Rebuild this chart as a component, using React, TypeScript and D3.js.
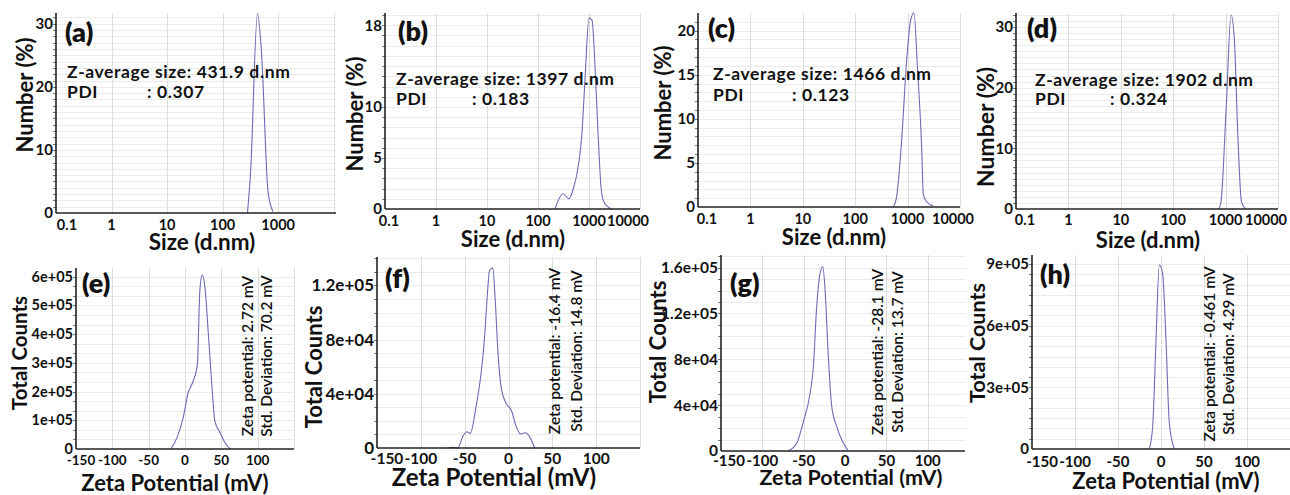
import * as d3 from "d3";
import React from "react";

// ---- size distributions, (a)-(d): size in d.nm, number in %
const sizeTicks = [0.1, 1, 10, 100, 1000, 10000];
const sizeGrid = [1, 10, 100, 1000, 10000];

const sizeA = [280, 318, 424, 501, 658, 809];
const numberA = [0, 6.3, 31.6, 25.5, 3.3, 0.2];
const sizeB = [215, 309, 405, 486, 582, 729, 835, 1000, 1145, 1312, 1501, 1718, 1883, 2360, 2826];
const numberB = [0, 1.5, 1.0, 1.9, 3.5, 7.5, 12.7, 18.7, 18.5, 14, 7.5, 2.2, 0.9, 0.2, 0];
const sizeC = [533, 619, 771, 961, 1146, 1325, 1535, 1862, 1995, 2310, 3090];
const numberC = [0, 1.2, 7.6, 16.7, 21.2, 22, 16, 6.5, 1.4, 0.6, 0.1];
const sizeD = [738, 818, 1021, 1273, 1473, 1706, 2005, 2390];
const numberD = [0, 1.2, 16.3, 32, 27.8, 12.5, 1.2, 0];

// ---- zeta potential, (e)-(h): mV vs total counts
const zetaTicks = [-150, -100, -50, 0, 50, 100];
const zetaGrid = [-100, -50, 0, 50, 100, 150];

const zetaE = [-19.5, -10.4, -2.2, 4.1, 10.1, 16.9, 20.5, 23.7, 27.3, 32.7, 37.4, 40.9, 48.7, 55.5, 62.3];
const countsE = [0, 43000, 113000, 194000, 229000, 290000, 554000, 606000, 565000, 380000, 206000, 100000, 55000, 20000, 0];
const zetaF = [-69.4, -63.7, -58, -52.2, -47.3, -43.5, -37, -31.3, -27.5, -23.7, -21.8, -17.9, -15.2, -12.2, -8.4, -2.7, 3.1, 8.8, 13.7, 19.1, 24, 29.8];
const countsF = [0, 500, 0, 8400, 12000, 10900, 30600, 55000, 80000, 117000, 130600, 133000, 110000, 72600, 45000, 33000, 28000, 15800, 10400, 11300, 8400, 0];
const zetaG = [-68.6, -58.5, -50.4, -42.3, -38.3, -34.3, -30.2, -27, -24.2, -20.2, -16.1, -10, -4, 4];
const countsG = [0, 6700, 25600, 50400, 73700, 126000, 155000, 161000, 141000, 82000, 38700, 21200, 9600, 0];
const zetaH = [-13.6, -9.7, -5.8, -2.0, 1.9, 5.8, 9.7, 15.5];
const countsH = [0, 108000, 530000, 895000, 855000, 530000, 125000, 0];

const yTicksA = [0, 10, 20, 30];
const yTicksB = [0, 5, 10, 18];
const yTicksC = [0, 5, 10, 15, 20];
const yTicksD = [0, 10, 20, 30];
const yTicksE = [0, 100000, 200000, 300000, 400000, 500000, 600000];
const yTicksF = [0, 40000, 80000, 120000];
const yTicksG = [0, 40000, 80000, 120000, 160000];
const yTicksH = [0, 300000, 600000, 900000];

const sizeNotes = [
  ["431.9", "0.307"],
  ["1397", "0.183"],
  ["1466", "0.123"],
  ["1902", "0.324"],
];
const zetaNotes = [
  ["2.72", "70.2"],
  ["-16.4", "14.8"],
  ["-28.1", "13.7"],
  ["-0.461", "4.29"],
];

const FONT = "Lato, 'Open Sans', sans-serif";
const LINE = "#6c6cb4";

const expLabel = (v) => {
  if (v === 0) return "0";
  const [m, e] = v.toExponential().split("e");
  return `${m}e${e[0]}${e.slice(1).padStart(2, "0")}`;
};

// layout of each panel (pixels)
const panels = [
  { id: "a", log: true, xs: sizeA, ys: numberA, xDomain: [0.1, 11000], xRange: [56, 336], yMax: 31.7, yRange: [213, 13],
    yTicks: yTicksA, xTicks: sizeTicks.slice(0, 5), xGrid: sizeGrid, minor: 1, tick: 15, xTick: 14.5, firstDx: 11, lastDx: 0, xLabY: 230,
    letter: [65, 42], note: [67, 78, 98, 147], yTitle: [33, 95, 22], xTitle: [202, 250, 22.5] },
  { id: "b", log: true, xs: sizeB, ys: numberB, xDomain: [0.1, 10000], xRange: [385, 640], yMax: 19.2, yRange: [209, 13],
    yTicks: yTicksB, xTicks: sizeTicks, xGrid: sizeGrid, minor: 1, tick: 15, xTick: 14.5, firstDx: 4, lastDx: -12, xLabY: 226,
    letter: [398, 41], note: [396, 85, 105, 472], yTitle: [363, 114, 22], xTitle: [513, 247, 22] },
  { id: "c", log: true, xs: sizeC, ys: numberC, xDomain: [0.1, 10000], xRange: [698, 960], yMax: 22, yRange: [207, 13],
    yTicks: yTicksC, xTicks: sizeTicks, xGrid: sizeGrid, minor: 1, tick: 15, xTick: 14.5, firstDx: 9, lastDx: -7, xLabY: 224,
    letter: [708, 38], note: [713, 80, 101, 792], yTitle: [671, 103, 22], xTitle: [834, 245, 22] },
  { id: "d", log: true, xs: sizeD, ys: numberD, xDomain: [0.1, 10000], xRange: [1016, 1278], yMax: 32.3, yRange: [209, 13],
    yTicks: yTicksD, xTicks: sizeTicks, xGrid: sizeGrid, minor: 1, tick: 15, xTick: 14.5, firstDx: 9, lastDx: -12, xLabY: 225,
    letter: [1027, 38], note: [1035, 86, 105, 1110], yTitle: [994, 127, 23], xTitle: [1148, 248, 22] },
  { id: "e", log: false, xs: zetaE, ys: countsE, xDomain: [-150, 150], xRange: [76, 294], yMax: 630000, yRange: [449, 268],
    yTicks: yTicksE, xTicks: zetaTicks, xGrid: zetaGrid, minor: 33333, tick: 14.5, xTick: 13.5, firstDx: 5, lastDx: 0, xLabY: 465,
    letter: [82, 293], rot: [253, 272, 356], yTitle: [27, 353, 20.5], xTitle: [175, 491, 22] },
  { id: "f", log: false, xs: zetaF, ys: countsF, xDomain: [-150, 150], xRange: [377, 640], yMax: 141000, yRange: [448, 257],
    yTicks: yTicksF, xTicks: zetaTicks, xGrid: zetaGrid, minor: 10000, tick: 17, xTick: 15.5, firstDx: 10, lastDx: 0, xLabY: 464,
    letter: [385, 288], rot: [560, 582, 351], yTitle: [322, 367, 22], xTitle: [494, 486, 24] },
  { id: "g", log: false, xs: zetaG, ys: countsG, xDomain: [-150, 145], xRange: [721, 965], yMax: 171000, yRange: [451, 255],
    yTicks: yTicksG, xTicks: zetaTicks, xGrid: zetaGrid, minor: 10000, tick: 15.5, xTick: 15, firstDx: 8, lastDx: 0, xLabY: 466,
    letter: [730, 293], rot: [883, 903, 352], yTitle: [666, 342, 22], xTitle: [851, 485, 21.5] },
  { id: "h", log: false, xs: zetaH, ys: countsH, xDomain: [-150, 150], xRange: [1032, 1290], yMax: 944000, yRange: [449, 255],
    yTicks: yTicksH, xTicks: zetaTicks, xGrid: zetaGrid, minor: 50000, tick: 15, xTick: 15, firstDx: 10, lastDx: 0, xLabY: 467,
    letter: [1040, 284], rot: [1215, 1234, 354], yTitle: [985, 343, 21.5], xTitle: [1166, 489, 22] },
];

function Panel({ p, idx }) {
  const x = p.log
    ? d3.scaleLog().domain(p.xDomain).range(p.xRange)
    : d3.scaleLinear().domain(p.xDomain).range(p.xRange);
  const y = d3.scaleLinear().domain([0, p.yMax]).range(p.yRange);
  const line = d3
    .line()
    .x((d, i) => x(p.xs[i]))
    .y((d) => y(d))
    .curve(d3.curveMonotoneX);
  const [x0, x1] = p.xRange;
  const [yb, yt] = p.yRange;
  const minor = d3.range(p.minor, p.yMax, p.minor);
  const fmtY = p.log ? (v) => String(v) : expLabel;
  const n = p.xTicks.length;

  return (
    <g fontFamily={FONT} fill="#111">
      {minor.map((v) => (
        <line key={"h" + v} x1={x0} x2={x1} y1={Math.round(y(v)) + 0.5} y2={Math.round(y(v)) + 0.5}
          stroke="#ebebeb" strokeWidth={1} />
      ))}
      {p.xGrid.filter((v) => x(v) <= x1 + 1).map((v) => (
        <line key={"v" + v} x1={Math.round(x(v)) + 0.5} x2={Math.round(x(v)) + 0.5} y1={yb} y2={yt}
          stroke="#dedede" strokeWidth={1} />
      ))}
      {minor.map((v) => (
        <line key={"t" + v} x1={x0 - 3} x2={x0} y1={Math.round(y(v)) + 0.5} y2={Math.round(y(v)) + 0.5}
          stroke="#777" strokeWidth={1} />
      ))}
      <path d={line(p.ys)} fill="none" stroke={LINE} strokeWidth={1.1} />
      <line x1={x0} x2={x1} y1={yb} y2={yb} stroke="#222" strokeWidth={1.6} />
      <line x1={x0} x2={x0} y1={yb} y2={yt} stroke="#222" strokeWidth={1.6} />

      {p.yTicks.map((v) => (
        <text key={"yl" + v} x={x0 - 3} y={y(v)} dy="0.35em" textAnchor="end" fontSize={p.tick} fontWeight={700}>
          {fmtY(v)}
        </text>
      ))}
      {p.xTicks.map((v, i) => (
        <text key={"xl" + v} x={x(v) + (i === 0 ? p.firstDx : i === n - 1 ? p.lastDx : 0)} y={p.xLabY}
          textAnchor="middle" fontSize={p.xTick} fontWeight={700}>
          {v}
        </text>
      ))}

      <text x={p.letter[0]} y={p.letter[1]} fontSize={27} fontWeight={800}>({p.id})</text>

      {p.note && (
        <g fontSize={17.5} fontWeight={700} letterSpacing={0.6}>
          <text x={p.note[0]} y={p.note[1]}>Z-average size: {sizeNotes[idx][0]} d.nm</text>
          <text x={p.note[0]} y={p.note[2]}>PDI</text>
          <text x={p.note[3]} y={p.note[2]}>: {sizeNotes[idx][1]}</text>
        </g>
      )}
      {p.rot && (
        <g fontSize={15.5} fontWeight={600}>
          <text transform={`translate(${p.rot[0]},${p.rot[2]}) rotate(-90)`} textAnchor="middle">
            Zeta potential: {zetaNotes[idx - 4][0]} mV
          </text>
          <text transform={`translate(${p.rot[1]},${p.rot[2]}) rotate(-90)`} textAnchor="middle">
            Std. Deviation: {zetaNotes[idx - 4][1]} mV
          </text>
        </g>
      )}

      <text transform={`translate(${p.yTitle[0]},${p.yTitle[1]}) rotate(-90)`} textAnchor="middle"
        fontSize={p.yTitle[2]} fontWeight={700}>
        {p.log ? "Number (%)" : "Total Counts"}
      </text>
      <text x={p.xTitle[0]} y={p.xTitle[1]} textAnchor="middle" fontSize={p.xTitle[2]} fontWeight={700}>
        {p.log ? "Size (d.nm)" : "Zeta Potential (mV)"}
      </text>
    </g>
  );
}

export default function App() {
  return (
    <svg width={1290} height={495} style={{ position: "absolute", left: 0, top: 0, background: "#fff" }}>
      <rect width={1290} height={495} fill="#fff" />
      {panels.map((p, i) => (
        <Panel key={p.id} p={p} idx={i} />
      ))}
    </svg>
  );
}
